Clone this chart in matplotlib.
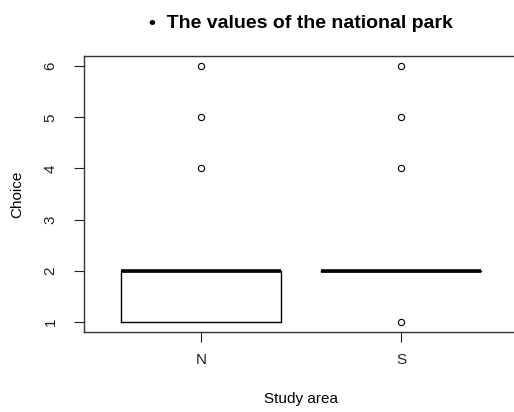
import matplotlib
matplotlib.use("Agg")
import matplotlib.pyplot as plt

plt.rcParams['font.family'] = ['Liberation Sans', 'DejaVu Sans']

# box summary
areas = ['N', 'S']
lower_whisker = [1, 2]
q1 = [1, 2]
median = [2, 2]
q3 = [2, 2]
upper_whisker = [2, 2]
outliers = [[4, 5, 6], [1, 4, 5, 6]]

stats = []
for i, name in enumerate(areas):
    stats.append(dict(label=name, whislo=lower_whisker[i], q1=q1[i], med=median[i],
                      q3=q3[i], whishi=upper_whisker[i], fliers=outliers[i]))

fig = plt.figure(figsize=(5.14, 4.12), dpi=100)
ax = fig.add_axes([84/514, 80/412, 434/514, 276/412])

ax.bxp(stats, positions=[1, 2], widths=0.8, showcaps=False,
       boxprops=dict(color='black', linewidth=1),
       whiskerprops=dict(color='black', linewidth=1, linestyle='--'),
       medianprops=dict(color='black', linewidth=2.6, solid_capstyle='butt'),
       flierprops=dict(marker='o', markersize=4.5, markerfacecolor='none',
                       markeredgecolor='black', markeredgewidth=0.8))

ax.set_xlim(0.415, 2.585)
ax.set_ylim(0.8, 6.2)
ax.set_yticks([1, 2, 3, 4, 5, 6])
ax.set_yticklabels(['1', '2', '3', '4', '5', '6'], rotation=90, va='center')
ax.set_xticks([1, 2])
ax.set_xticklabels(areas)
ax.tick_params(axis='both', direction='out', length=7, width=0.8, labelsize=11,
               colors='#222222')
ax.tick_params(axis='y', pad=12)
ax.tick_params(axis='x', pad=8)
for side in ['top', 'bottom', 'left', 'right']:
    ax.spines[side].set_linewidth(1)
    ax.spines[side].set_color('#333333')

ax.set_ylabel('Choice', fontsize=11, labelpad=14)
ax.set_xlabel('Study area', fontsize=11, labelpad=18)
ax.set_title('\u2022  The values of the national park', fontsize=14, fontweight='bold',
             pad=20)

fig.savefig('out.png', dpi=100)
